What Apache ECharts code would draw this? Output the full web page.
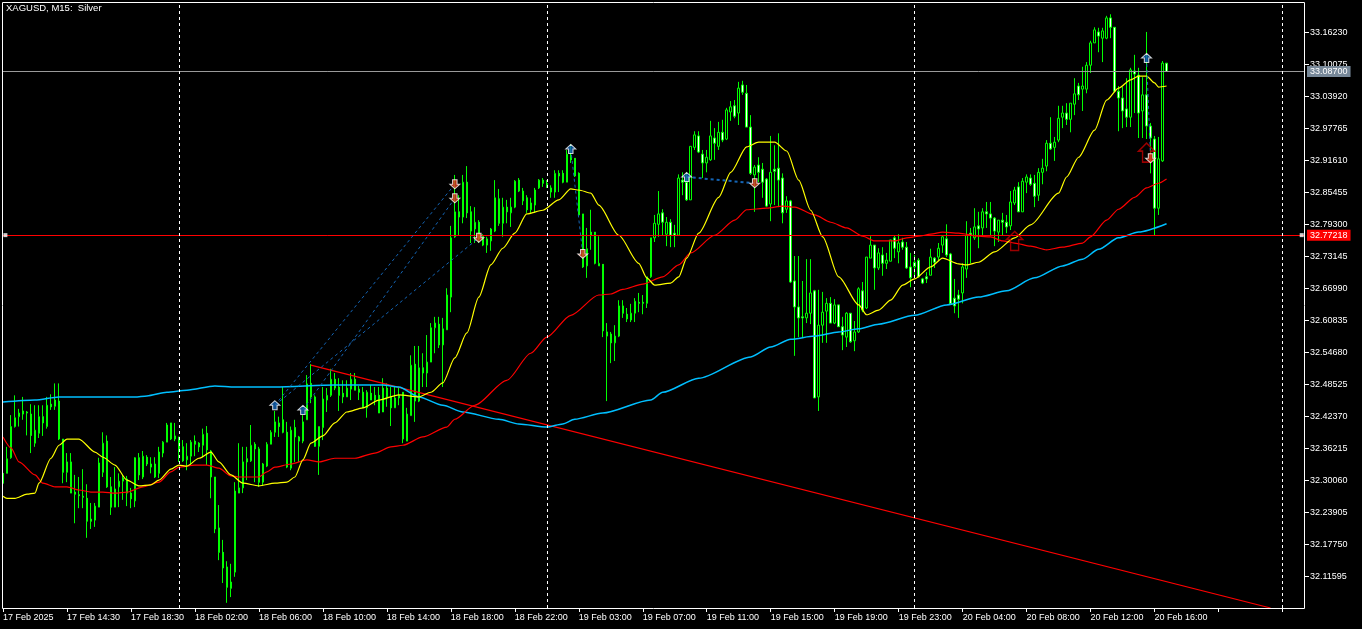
<!DOCTYPE html>
<html><head><meta charset="utf-8">
<style>html,body{margin:0;padding:0;background:#000;overflow:hidden}#c{width:1362px;height:629px}</style>
<script src="https://cdn.jsdelivr.net/npm/echarts@6/dist/echarts.min.js"></script>
</head><body><div id="c"></div>
<script>
const chartTitle = 'XAGUSD, M15:  Silver';
const xTickLabels = ['17 Feb 2025','17 Feb 14:30','17 Feb 18:30','18 Feb 02:00','18 Feb 06:00','18 Feb 10:00','18 Feb 14:00','18 Feb 18:00','18 Feb 22:00','19 Feb 03:00','19 Feb 07:00','19 Feb 11:00','19 Feb 15:00','19 Feb 19:00','19 Feb 23:00','20 Feb 04:00','20 Feb 08:00','20 Feb 12:00','20 Feb 16:00'];
const yTickLabels = ['33.16230','33.10075','33.03920','32.97765','32.91610','32.85455','32.79300','32.73145','32.66990','32.60835','32.54680','32.48525','32.42370','32.36215','32.30060','32.23905','32.17750','32.11595'];
const daySeparators = [44,136,228,320];
const bidPrice = 33.087;
const alertPrice = 32.77218;

const opens = [
32.314,32.314,32.344,32.404,32.423,32.428,32.432,32.428,32.372,32.391,
32.423,32.404,32.447,32.443,32.453,32.380,32.316,32.336,32.278,32.273,
32.270,32.266,32.226,32.224,32.249,32.316,32.376,32.288,32.249,32.288,
32.299,32.303,32.276,32.261,32.344,32.307,32.345,32.332,32.332,32.314,
32.353,32.374,32.411,32.386,32.384,32.365,32.340,32.347,32.376,32.372,
32.368,32.391,32.357,32.307,32.209,32.162,32.134,32.105,32.124,32.276,
32.286,32.342,32.338,32.370,32.361,32.297,32.328,32.370,32.393,32.411,
32.417,32.393,32.324,32.402,32.384,32.376,32.417,32.487,32.461,32.366,
32.402,32.455,32.464,32.495,32.480,32.468,32.461,32.476,32.495,32.476,
32.470,32.440,32.468,32.464,32.464,32.432,32.478,32.461,32.440,32.464,
32.470,32.376,32.425,32.524,32.453,32.517,32.507,32.528,32.594,32.601,
32.561,32.590,32.653,32.769,32.817,32.807,32.874,32.817,32.784,32.797,
32.770,32.753,32.761,32.780,32.842,32.795,32.826,32.815,32.826,32.878,
32.838,32.844,32.821,32.830,32.863,32.878,32.872,32.863,32.855,32.891,
32.891,32.874,32.926,32.920,32.891,32.813,32.713,32.778,32.778,32.713,
32.716,32.578,32.582,32.565,32.578,32.636,32.620,32.609,32.622,32.643,
32.643,32.641,32.692,32.767,32.793,32.815,32.774,32.797,32.776,32.772,
32.878,32.874,32.840,32.941,32.963,32.928,32.911,32.917,32.959,32.943,
32.970,32.957,33.009,33.021,33.007,33.061,33.045,32.980,32.888,32.907,
32.899,32.880,32.832,32.899,32.901,32.882,32.822,32.838,32.684,32.634,
32.615,32.613,32.622,32.665,32.461,32.599,32.626,32.641,32.603,32.638,
32.596,32.576,32.622,32.569,32.586,32.665,32.632,32.728,32.753,32.709,
32.734,32.718,32.722,32.767,32.740,32.759,32.749,32.711,32.711,32.724,
32.688,32.692,32.695,32.728,32.730,32.753,32.765,32.736,32.651,32.657,
32.661,32.707,32.776,32.767,32.790,32.786,32.817,32.813,32.805,32.778,
32.801,32.797,32.790,32.834,32.865,32.817,32.874,32.882,32.872,32.849,
32.893,32.905,32.949,32.941,32.955,32.999,33.007,32.995,33.024,33.059,
33.053,33.053,33.099,33.142,33.163,33.151,33.151,33.190,33.172,33.049,
33.036,33.015,32.999,33.088,33.080,33.011,33.042,32.982,32.957,32.824,
32.915,33.103];
const highs = [
32.314,32.365,32.426,32.464,32.438,32.461,32.434,32.447,32.445,32.445,
32.445,32.461,32.466,32.487,32.487,32.380,32.353,32.353,32.311,32.307,
32.322,32.293,32.257,32.257,32.344,32.393,32.387,32.307,32.326,32.314,
32.311,32.309,32.286,32.345,32.353,32.357,32.349,32.345,32.345,32.365,
32.376,32.411,32.411,32.411,32.384,32.378,32.372,32.378,32.387,32.374,
32.400,32.405,32.359,32.307,32.253,32.186,32.145,32.140,32.297,32.372,
32.365,32.365,32.407,32.374,32.365,32.334,32.374,32.397,32.434,32.423,
32.480,32.413,32.404,32.417,32.386,32.426,32.503,32.524,32.464,32.404,
32.480,32.478,32.515,32.507,32.497,32.493,32.493,32.507,32.507,32.482,
32.480,32.474,32.484,32.480,32.480,32.497,32.487,32.480,32.480,32.480,
32.470,32.440,32.541,32.559,32.559,32.545,32.580,32.603,32.615,32.615,
32.613,32.670,32.790,32.888,32.849,32.888,32.905,32.828,32.826,32.801,
32.774,32.769,32.786,32.878,32.861,32.844,32.840,32.844,32.878,32.882,
32.863,32.849,32.844,32.863,32.880,32.882,32.878,32.868,32.897,32.897,
32.897,32.936,32.947,32.920,32.893,32.813,32.786,32.821,32.778,32.770,
32.716,32.603,32.586,32.599,32.647,32.647,32.632,32.640,32.651,32.661,
32.657,32.692,32.767,32.811,32.857,32.822,32.807,32.803,32.792,32.889,
32.893,32.893,32.943,32.972,32.972,32.936,32.936,32.992,32.978,32.990,
32.994,33.017,33.030,33.032,33.067,33.069,33.061,33.003,32.907,32.922,
32.911,32.882,32.963,32.945,32.968,32.891,32.847,32.840,32.732,32.732,
32.684,32.726,32.726,32.667,32.667,32.663,32.651,32.653,32.649,32.638,
32.615,32.624,32.622,32.607,32.672,32.682,32.730,32.770,32.753,32.747,
32.749,32.738,32.763,32.772,32.774,32.767,32.759,32.738,32.734,32.728,
32.690,32.701,32.746,32.730,32.757,32.772,32.793,32.738,32.688,32.667,
32.718,32.799,32.786,32.824,32.817,32.824,32.836,32.836,32.807,32.801,
32.815,32.811,32.857,32.865,32.874,32.882,32.889,32.889,32.888,32.901,
32.919,32.955,32.999,32.961,33.021,33.021,33.026,33.026,33.074,33.065,
33.096,33.105,33.146,33.172,33.171,33.171,33.194,33.197,33.172,33.059,
33.057,33.074,33.094,33.119,33.094,33.076,33.163,32.988,32.963,32.961,
33.107,33.103];
const lows = [
32.293,32.314,32.342,32.402,32.404,32.417,32.387,32.353,32.365,32.382,
32.386,32.400,32.436,32.436,32.378,32.295,32.297,32.276,32.218,32.247,
32.247,32.190,32.207,32.211,32.249,32.307,32.286,32.234,32.249,32.249,
32.263,32.251,32.247,32.249,32.301,32.303,32.328,32.314,32.305,32.305,
32.345,32.374,32.378,32.376,32.336,32.336,32.320,32.330,32.347,32.355,
32.345,32.330,32.266,32.199,32.147,32.103,32.065,32.076,32.115,32.276,
32.276,32.301,32.336,32.297,32.288,32.291,32.326,32.370,32.384,32.384,
32.391,32.324,32.320,32.336,32.336,32.372,32.417,32.449,32.365,32.311,
32.378,32.432,32.461,32.474,32.434,32.449,32.461,32.455,32.474,32.455,
32.440,32.421,32.455,32.445,32.430,32.432,32.442,32.405,32.440,32.445,
32.372,32.376,32.425,32.413,32.451,32.480,32.480,32.528,32.545,32.555,
32.480,32.590,32.624,32.767,32.772,32.795,32.805,32.757,32.757,32.757,
32.751,32.738,32.742,32.778,32.790,32.769,32.795,32.788,32.824,32.855,
32.830,32.815,32.815,32.815,32.861,32.865,32.863,32.844,32.844,32.855,
32.872,32.874,32.911,32.884,32.809,32.709,32.690,32.744,32.716,32.713,
32.576,32.453,32.526,32.530,32.576,32.613,32.605,32.605,32.605,32.624,
32.620,32.632,32.690,32.759,32.769,32.772,32.751,32.749,32.749,32.772,
32.849,32.838,32.840,32.936,32.930,32.882,32.893,32.915,32.917,32.936,
32.951,32.955,32.992,32.997,32.984,33.042,32.980,32.888,32.817,32.874,
32.844,32.826,32.799,32.830,32.826,32.795,32.815,32.680,32.540,32.576,
32.576,32.603,32.601,32.459,32.434,32.565,32.565,32.603,32.601,32.596,
32.551,32.557,32.565,32.549,32.584,32.624,32.630,32.728,32.667,32.705,
32.694,32.707,32.722,32.728,32.718,32.744,32.707,32.672,32.692,32.690,
32.678,32.680,32.695,32.709,32.724,32.738,32.730,32.638,32.622,32.613,
32.641,32.690,32.718,32.763,32.747,32.769,32.786,32.772,32.751,32.759,
32.772,32.776,32.782,32.830,32.817,32.817,32.853,32.867,32.826,32.838,
32.870,32.895,32.936,32.915,32.951,32.978,32.984,32.970,33.003,33.032,
33.011,33.045,33.084,33.142,33.124,33.105,33.149,33.151,33.047,32.972,
32.978,32.980,32.980,33.007,32.959,32.959,32.957,32.891,32.772,32.811,
32.913,33.086];
const closes = [
32.295,32.342,32.404,32.421,32.430,32.434,32.430,32.387,32.397,32.423,
32.411,32.445,32.442,32.455,32.380,32.316,32.336,32.276,32.274,32.271,
32.268,32.222,32.222,32.251,32.334,32.372,32.288,32.249,32.284,32.299,
32.305,32.276,32.265,32.344,32.311,32.347,32.332,32.326,32.307,32.355,
32.374,32.407,32.380,32.380,32.361,32.338,32.347,32.374,32.370,32.365,
32.389,32.359,32.307,32.207,32.162,32.132,32.095,32.093,32.280,32.286,
32.336,32.336,32.368,32.361,32.297,32.332,32.370,32.393,32.413,32.404,
32.393,32.326,32.397,32.384,32.376,32.413,32.486,32.461,32.366,32.404,
32.457,32.464,32.495,32.478,32.464,32.461,32.478,32.495,32.474,32.470,
32.440,32.470,32.455,32.455,32.430,32.478,32.461,32.440,32.459,32.459,
32.380,32.428,32.522,32.453,32.517,32.507,32.528,32.594,32.603,32.561,
32.592,32.657,32.767,32.817,32.807,32.874,32.815,32.780,32.797,32.765,
32.753,32.765,32.784,32.844,32.795,32.826,32.817,32.826,32.876,32.857,
32.857,32.821,32.834,32.859,32.878,32.872,32.865,32.855,32.891,32.886,
32.874,32.928,32.917,32.886,32.811,32.711,32.746,32.772,32.718,32.718,
32.588,32.586,32.565,32.578,32.636,32.622,32.611,32.622,32.645,32.641,
32.641,32.692,32.767,32.795,32.813,32.797,32.797,32.772,32.772,32.882,
32.874,32.840,32.943,32.965,32.932,32.911,32.922,32.963,32.949,32.970,
32.955,33.013,33.019,33.001,33.055,33.047,32.980,32.891,32.903,32.893,
32.874,32.828,32.893,32.895,32.878,32.815,32.838,32.682,32.634,32.613,
32.613,32.622,32.661,32.459,32.599,32.624,32.641,32.603,32.638,32.596,
32.580,32.622,32.567,32.586,32.669,32.628,32.730,32.753,32.709,32.738,
32.718,32.724,32.763,32.747,32.757,32.749,32.709,32.690,32.720,32.692,
32.680,32.688,32.730,32.720,32.747,32.769,32.734,32.640,32.636,32.649,
32.711,32.772,32.772,32.788,32.784,32.817,32.813,32.805,32.780,32.801,
32.797,32.788,32.836,32.859,32.817,32.876,32.884,32.870,32.847,32.893,
32.901,32.949,32.938,32.951,32.997,33.007,32.995,33.026,33.044,33.042,
33.059,33.099,33.142,33.167,33.155,33.165,33.190,33.172,33.049,33.036,
33.011,32.999,33.090,33.082,33.007,33.042,32.982,32.959,32.824,32.919,
33.103,33.087];

const maFast = [[0,32.270],[1,32.266],[3,32.266],[6,32.274],[8,32.276],[9,32.295],[12,32.343],[14,32.368],[16,32.380],[19,32.380],[23,32.355],[25,32.345],[28,32.330],[31,32.301],[34,32.290],[37,32.292],[39,32.301],[42,32.322],[44,32.330],[46,32.328],[49,32.343],[52,32.355],[54,32.336],[57,32.311],[60,32.295],[64,32.290],[68,32.295],[71,32.297],[73,32.307],[75,32.340],[77,32.372],[80,32.386],[83,32.411],[86,32.432],[90,32.440],[94,32.455],[99,32.465],[104,32.461],[107,32.470],[110,32.488],[113,32.536],[116,32.584],[119,32.653],[122,32.715],[125,32.747],[128,32.776],[131,32.813],[135,32.820],[139,32.840],[142,32.861],[144,32.859],[147,32.853],[149,32.830],[154,32.772],[159,32.718],[161,32.690],[163,32.676],[167,32.680],[169,32.692],[171,32.728],[174,32.776],[179,32.845],[182,32.893],[186,32.942],[189,32.951],[193,32.951],[196,32.934],[199,32.878],[202,32.820],[205,32.769],[209,32.692],[214,32.638],[216,32.619],[219,32.628],[222,32.647],[225,32.676],[228,32.688],[232,32.711],[235,32.728],[239,32.717],[241,32.715],[244,32.720],[248,32.740],[253,32.767],[257,32.792],[264,32.853],[266,32.884],[269,32.922],[273,32.974],[276,33.032],[279,33.055],[282,33.071],[284,33.078],[286,33.078],[288,33.065],[289,33.057],[291,33.059]];
const maMid = [[0,32.384],[2,32.363],[4,32.336],[8,32.311],[10,32.295],[13,32.288],[16,32.288],[19,32.282],[22,32.278],[25,32.278],[28,32.276],[31,32.278],[35,32.288],[39,32.297],[42,32.317],[44,32.326],[48,32.330],[51,32.330],[54,32.324],[57,32.309],[59,32.307],[64,32.307],[66,32.317],[68,32.326],[72,32.332],[76,32.340],[79,32.336],[83,32.343],[88,32.343],[93,32.353],[97,32.365],[100,32.368],[105,32.384],[111,32.403],[113,32.418],[118,32.445],[126,32.493],[132,32.545],[136,32.576],[142,32.618],[149,32.657],[152,32.659],[155,32.668],[160,32.678],[165,32.692],[169,32.715],[172,32.738],[178,32.772],[183,32.801],[186,32.821],[191,32.824],[195,32.828],[198,32.826],[203,32.811],[207,32.797],[211,32.786],[215,32.770],[218,32.761],[223,32.761],[226,32.767],[229,32.770],[232,32.774],[235,32.778],[239,32.776],[244,32.770],[247,32.769],[250,32.761],[253,32.757],[257,32.751],[261,32.744],[265,32.749],[270,32.757],[272,32.769],[276,32.801],[279,32.822],[283,32.845],[286,32.863],[289,32.872],[291,32.880]];
const maSlow = [[0,32.451],[8,32.455],[14,32.461],[33,32.461],[36,32.463],[41,32.470],[46,32.474],[53,32.482],[58,32.480],[68,32.480],[83,32.484],[95,32.484],[99,32.480],[104,32.461],[110,32.445],[115,32.432],[124,32.418],[129,32.409],[136,32.403],[140,32.409],[143,32.418],[150,32.430],[162,32.455],[165,32.470],[174,32.497],[187,32.538],[192,32.557],[197,32.572],[203,32.578],[209,32.586],[214,32.592],[219,32.601],[228,32.618],[236,32.638],[244,32.653],[251,32.665],[258,32.690],[265,32.713],[270,32.726],[274,32.745],[279,32.767],[284,32.778],[291,32.794]];
const trendLine = [[77,32.522],[317,32.055]];
const signalLinks = [
  {a:[68,32.445],b:[113,32.870],w:1},
  {a:[75,32.436],b:[113,32.843],w:1},
  {a:[68,32.445],b:[119,32.767],w:1},
  {a:[142,32.938],b:[145,32.736],w:1},
  {a:[171,32.884],b:[188,32.872],w:2},
  {a:[286,33.113],b:[287,32.920],w:1}
];
const buyMarks = [[68,32.445],[75,32.436],[142,32.938],[171,32.884],[286,33.113]];
const sellMarks = [[113,32.870],[113,32.843],[119,32.767],[145,32.736],[188,32.872],[287,32.920]];
const outlineArrows = [[253,32.761],[286,32.931]];
const lineHandles = [[0.6,alertPrice],[324.8,alertPrice]];

const candles = opens.map((o,i)=>[i,o,closes[i],lows[i],highs[i]]);
const font = 'Liberation Sans, Arial, sans-serif';
const WHITE = '#ffffff', GREEN = '#00ff00';
const UP = 'path://M4.5 0 L9 4 L6.5 4 L6.5 8 L2.5 8 L2.5 4 L0 4 Z';
const DOWN = 'path://M2.5 0 L6.5 0 L6.5 4 L9 4 L4.5 8 L0 4 L2.5 4 Z';
const HOLLOW = 'path://M8 0 L16 8 L12 8 L12 19 L4 19 L4 8 L0 8 Z';
const xTickVals = xTickLabels.map((_,i)=>i*16);
const xTickAll = xTickVals.concat([304,320]);

function line(data,color,w,z){return {type:'line',data,showSymbol:false,symbol:'none',silent:true,animation:false,z,lineStyle:{color,width:w}};}
function curve(data,color,w,z){const s=line(data,color,w,z);s.smooth=0.25;s.smoothMonotone='x';return s;}

const option = {
  animation:false, backgroundColor:'#000',
  title:{text:chartTitle,left:6,top:3,padding:0,textStyle:{color:WHITE,fontFamily:font,fontSize:9.5,fontWeight:'normal'}},
  grid:{left:2,top:2,width:1302,height:606,show:false},
  graphic:[{type:'rect',z:50,silent:true,shape:{x:2.5,y:2.5,width:1302,height:606},style:{fill:'none',stroke:WHITE,lineWidth:1}}],
  xAxis:{type:'value',min:-0.125,max:325.375,splitLine:{show:false},axisLine:{show:false,onZero:false},
    axisTick:{show:true,length:4,customValues:xTickAll,lineStyle:{color:WHITE,width:1}},
    axisLabel:{customValues:xTickVals,color:WHITE,fontFamily:font,fontSize:9,align:'left',margin:5,showMinLabel:true,showMaxLabel:true,hideOverlap:false,
      formatter:v=>xTickLabels[Math.round(v/16)]||''}},
  yAxis:{type:'value',position:'right',min:32.055,max:33.2206,scale:true,splitLine:{show:false},axisLine:{show:false,onZero:false},
    axisTick:{show:true,length:5,customValues:yTickLabels.map(Number),lineStyle:{color:WHITE,width:1}},
    axisLabel:{customValues:yTickLabels.map(Number),color:WHITE,fontFamily:font,fontSize:9,margin:6,hideOverlap:false,
      formatter:v=>Number(v).toFixed(5)}},
  series:[
    {type:'candlestick',data:candles,barWidth:2,z:2,silent:true,
     itemStyle:{color:'#000000',color0:WHITE,borderColor:GREEN,borderColor0:GREEN,borderColorDoji:GREEN,borderWidth:1}},
    Object.assign(line(trendLine,'#ff0000',1.2,3),{
      markLine:{silent:true,symbol:'none',animation:false,precision:5,data:[
        {yAxis:bidPrice,lineStyle:{color:'#9a9a9a',width:1,type:'solid'},
         label:{show:true,position:'end',distance:3,formatter:()=>bidPrice.toFixed(5),color:WHITE,backgroundColor:'#778899',padding:[1,3],fontFamily:font,fontSize:9,lineHeight:9}},
        {yAxis:alertPrice,lineStyle:{color:'#ff0000',width:1,type:'solid'},
         label:{show:true,position:'end',distance:3,formatter:()=>alertPrice.toFixed(5),color:WHITE,backgroundColor:'#ff0000',padding:[1,3],fontFamily:font,fontSize:9,lineHeight:9}}
      ].concat(daySeparators.map(d=>({xAxis:d,lineStyle:{color:WHITE,width:1,type:[3,3]},label:{show:false}})))}
    }),
    curve(maSlow,'#00bfff',1.5,4),
    curve(maMid,'#ff0000',1.2,4),
    curve(maFast,'#ffff00',1.2,4),
    ...signalLinks.map(l=>{const s=line([l.a,l.b],'#1464b4',l.w,5);s.lineStyle.type=[3,3];return s;}),
    {type:'scatter',data:outlineArrows,symbol:HOLLOW,symbolSize:[16,19],silent:true,z:6,
     itemStyle:{color:'rgba(0,0,0,0)',borderColor:'#c00000',borderWidth:1.5}},
    {type:'scatter',data:buyMarks,symbol:UP,symbolSize:[10,9],silent:true,z:7,itemStyle:{color:'#1464b4',borderColor:WHITE,borderWidth:1}},
    {type:'scatter',data:sellMarks,symbol:DOWN,symbolSize:[10,9],silent:true,z:7,itemStyle:{color:'#e0401e',borderColor:WHITE,borderWidth:1}},
    {type:'scatter',data:lineHandles,symbol:'rect',symbolSize:4,silent:true,z:7,itemStyle:{color:WHITE}}
  ]
};
const chart = echarts.init(document.getElementById('c'),null,{renderer:'canvas',width:1362,height:629});
chart.setOption(option);
</script></body></html>
